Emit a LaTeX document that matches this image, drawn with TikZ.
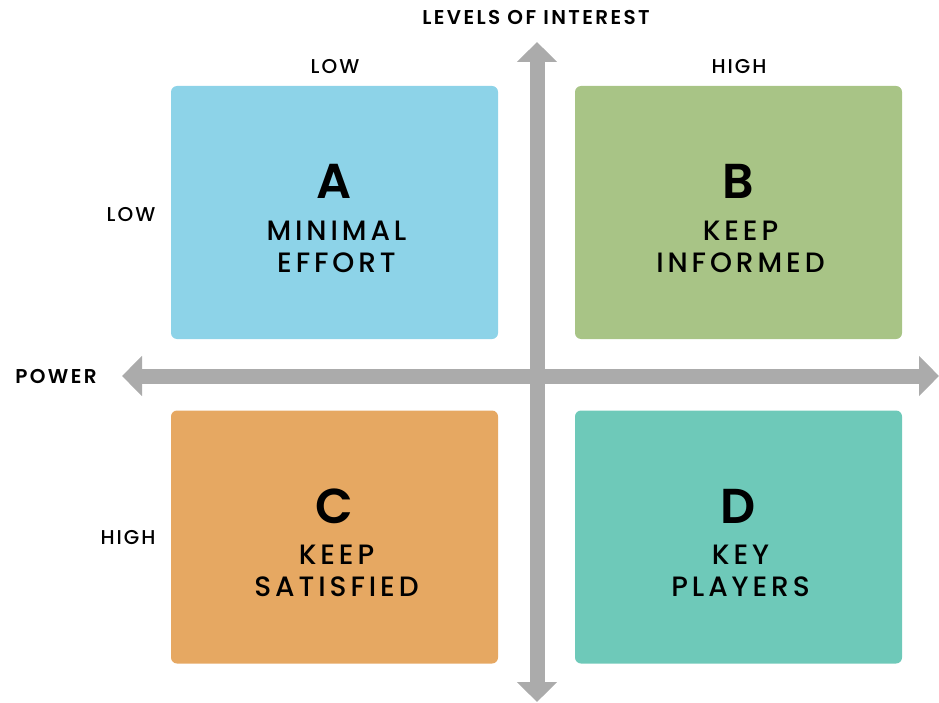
\documentclass[tikz,border=0pt]{standalone}
\usepackage{fontspec}
\setmainfont{Poppins}[UprightFont=* Medium, BoldFont=* SemiBold]
\usepackage{tikz}
\usetikzlibrary{arrows.meta}

\definecolor{feldA}{HTML}{8DD3E8}
\definecolor{feldB}{HTML}{A8C486}
\definecolor{feldC}{HTML}{E6A862}
\definecolor{feldD}{HTML}{6EC9B9}
\definecolor{achse}{HTML}{ABABAB}

\begin{document}
\begin{tikzpicture}[x=1pt, y=-1pt,
    feld/.style={rounded corners=6pt, minimum width=327pt, minimum height=253pt, inner sep=0pt},
    buchstabe/.style={font=\fontsize{49}{49}\selectfont\bfseries},
    feldtext/.style={font=\fontsize{28}{32}\selectfont\addfontfeature{LetterSpace=14}, align=center},
    klein/.style={font=\fontsize{20}{20}\selectfont\addfontfeature{LetterSpace=10}},
    titel/.style={font=\fontsize{20}{20}\selectfont\bfseries\addfontfeature{LetterSpace=12}},
    achsenpfeil/.style={draw=achse, line width=15pt,
        {Triangle[length=20pt, width=39pt]}-{Triangle[length=20pt, width=39pt]}}]
    \useasboundingbox (0,0) rectangle (939,703);

    % Felder.
    \foreach \n/\x/\y/\b/\t in {A/334.5/212.5/A/{MINIMAL\\EFFORT},
                                 B/738.5/212.5/B/{KEEP\\INFORMED},
                                 C/334.5/537/C/{KEEP\\SATISFIED},
                                 D/738.5/537/D/{KEY\\PLAYERS}}
    {
        \node[feld, fill=feld\n] (\n) at (\x,\y) {};
        \node[buchstabe] (\n buchstabe) at (\x,\y-31) {\b};
        \node[feldtext] (\n text) at (\x+2,\y+34) {\t};
    }

    % Achsen.
    \coordinate (oben) at (537,42);
    \coordinate (unten) at (537,702);
    \coordinate (links) at (122,376);
    \coordinate (rechts) at (939,376);
    \draw[achsenpfeil] (unten) -- (oben);
    \draw[achsenpfeil] (links) -- (rechts);

    % Beschriftung.
    \node[titel] (interesse) at (536,17) {LEVELS OF INTEREST};
    \node[titel] (macht) at (56,376) {POWER};
    \node[klein] (obenlow) at (335,67) {LOW};
    \node[klein] (obenhigh) at (739,67) {HIGH};
    \node[klein] (linkslow) at (131,215) {LOW};
    \node[klein] (linkshigh) at (128,538) {HIGH};
\end{tikzpicture}
\end{document}
